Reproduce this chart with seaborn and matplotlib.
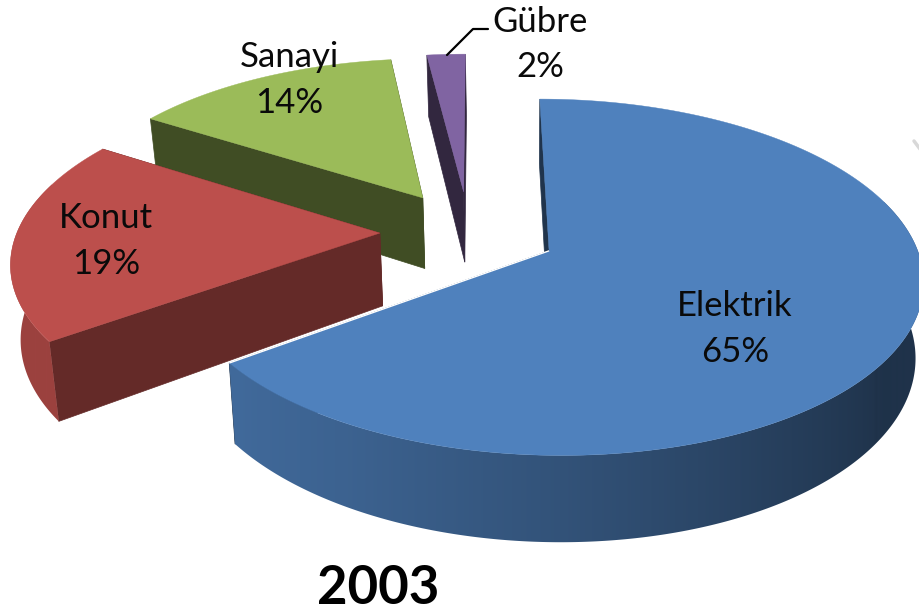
import numpy as np
import matplotlib.pyplot as plt
from matplotlib.patches import Polygon
import seaborn as sns

# === Data ===
categories = ['Elektrik', 'Konut', 'Sanayi', 'Gübre']
shares = [65, 19, 14, 2]
title_year = '2003'

sns.set_theme(style='white')
plt.rcParams['font.family'] = ['Lato', 'DejaVu Sans']
colors = sns.color_palette(['#4F81BD', '#BC4F4C', '#9BBB59', '#8064A2'])
side_dark = [0.40, 0.53, 0.41, 0.39]
label_pos = [(735, 306, 352), (106, 218, 264), (289, 57, 103), (540, 22, 67)]

# === Projection of the tilted pie ===
X0, Y0 = 552, 252
SX, SY, SKEW, PERSP = 369, 174.6, -11.1, 0.1485
EXPLODE = 0.245
DEPTH = 74


def project(u, v, low=False):
    s = 1 + PERSP * v
    x = X0 + (SX * u + SKEW * v) / s
    y = Y0 - SY * v / s
    if low:
        y = y + DEPTH / s
        x = x + (520 - x) * 0.02
    return x, y


def arc_shade(deg):
    # outer wall goes from very dark on the right to lighter on the left
    return np.interp(deg, [90, 125, 150, 180, 210, 234, 300], [0.39, 0.40, 0.50, 0.64, 0.76, 0.82, 0.84])


fig = plt.figure(figsize=(9.2, 6.13), dpi=100)
ax = fig.add_axes([0, 0, 1, 1])

# === Slices ===
fractions = np.array(shares) / sum(shares)
ends = np.cumsum(fractions) * 360
starts = ends - fractions * 360
centre_u, centre_v = -0.226, 0.118

z = 1
for i in [3, 2, 1, 0]:
    base = np.array(colors[i])
    mid = np.radians((starts[i] + ends[i]) / 2)
    au = centre_u + EXPLODE * np.sin(mid)
    av = centre_v + EXPLODE * np.cos(mid)
    deg = np.linspace(starts[i], ends[i], int(ends[i] - starts[i]) * 2 + 2)
    u = au + np.sin(np.radians(deg))
    v = av + np.cos(np.radians(deg))

    # flat walls along both cuts
    for k in [-1, 0]:
        x1, y1 = project(np.array([au, u[k]]), np.array([av, v[k]]))
        x2, y2 = project(np.array([au, u[k]]), np.array([av, v[k]]), low=True)
        ax.fill(np.r_[x1, x2[::-1]], np.r_[y1, y2[::-1]], color=base * side_dark[i], lw=0.5, zorder=z)
        z += 1

    # outer wall, only the part facing the viewer, gradient runs along x
    front = np.cos(np.radians(deg)) < 0.3
    if front.sum() > 1:
        x1, y1 = project(u[front], v[front])
        x2, y2 = project(u[front], v[front], low=True)
        wall = Polygon(np.c_[np.r_[x1, x2[::-1]], np.r_[y1, y2[::-1]]], closed=True,
                       transform=ax.transData, facecolor='none', edgecolor='none')
        ax.add_patch(wall)
        left, right = min(x1.min(), x2.min()), max(x1.max(), x2.max())
        cols = np.linspace(left, right, 300)
        order = np.argsort(x2)
        shade = np.interp(cols, x2[order], arc_shade(deg[front])[order])
        grad = (base[None, None, :] * shade[None, :, None])
        im = ax.imshow(grad, extent=[left, right, 613, 0], aspect='auto', zorder=z, interpolation='bilinear')
        im.set_clip_path(wall)
        z += 1

    # top face
    tx, ty = project(np.r_[au, u], np.r_[av, v])
    ax.fill(tx, ty, color=base, lw=0.3, zorder=z)
    z += 1
    if i == 0:
        ax.plot(tx[[0, -1]], ty[[0, -1]], color='white', lw=1.0, solid_capstyle='butt', zorder=z)
        z += 1

# === Labels ===
for name, share, (lx, ly1, ly2) in zip(categories, shares, label_pos):
    ax.text(lx, ly1, name, ha='center', va='center', fontsize=25, color='#0a0a0a', zorder=z)
    ax.text(lx, ly2, f'{share}%', ha='center', va='center', fontsize=25, color='#0a0a0a', zorder=z)

ax.plot([447, 473, 488], [55, 29, 29], color='black', lw=1.6, zorder=z)
ax.plot([914, 920], [141, 149], color='#d8d8d8', lw=2.5, zorder=z)
ax.text(378, 589, title_year, ha='center', va='center', fontsize=38, fontweight='bold', color='black', zorder=z)

ax.set_xlim(0, 920)
ax.set_ylim(613, 0)
ax.axis('off')

fig.savefig('out.png', dpi=100)
